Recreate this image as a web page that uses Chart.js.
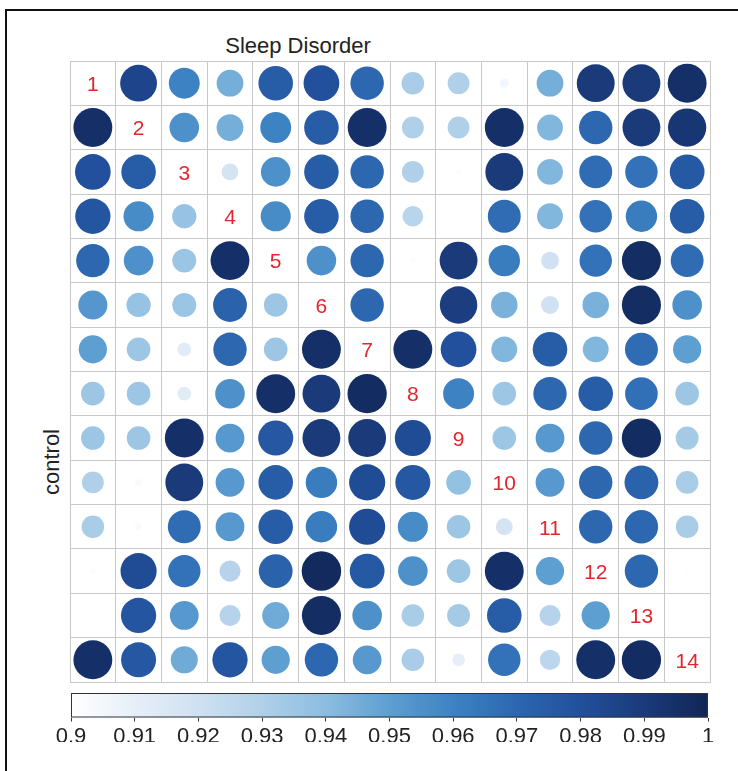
<!DOCTYPE html>
<html>
<head>
<meta charset="utf-8">
<script src="https://cdn.jsdelivr.net/npm/chart.js@4"></script>
<style>
  html, body { margin: 0; background: #fff; overflow: hidden; font-family: "Liberation Sans", Arial, sans-serif; }
  #wrap { position: relative; width: 738px; height: 771px; overflow: hidden; }
  #topline { position: absolute; left: 5px; top: 9px; width: 733px; height: 2px; background: #111; }
  #leftline { position: absolute; left: 5px; top: 9px; width: 2px; height: 762px; background: #111; }
  #title { position: absolute; left: 168px; width: 260px; top: 32px; text-align: center;
           font-size: 22px; color: #222; line-height: 28px; }
  #ylab { position: absolute; left: 2px; top: 448px; width: 100px; text-align: center;
          font-size: 22px; color: #222; line-height: 28px; transform: rotate(-90deg); }
  #grid { position: absolute; left: 68px; top: 59px; }
  #bar { position: absolute; left: 50px; top: 690px; }
</style>
</head>
<body>
<div id="wrap">
  <div id="topline"></div>
  <div id="leftline"></div>
  <div id="title">Sleep Disorder</div>
  <div id="ylab">control</div>
  <canvas id="grid" width="644" height="625"></canvas>
  <canvas id="bar" width="680" height="54"></canvas>
</div>
<script>
// variable labels shown on the diagonal
const varLabels = ['1', '2', '3', '4', '5', '6', '7', '8', '9', '10', '11', '12', '13', '14'];

// correlation rows (null = diagonal); upper = Sleep Disorder, lower = control
const row01 = [null, 0.985, 0.960, 0.945, 0.975, 0.980, 0.970, 0.932, 0.930, 0.905, 0.945, 0.990, 0.990, 0.995];
const row02 = [0.995, null, 0.955, 0.945, 0.960, 0.975, 0.995, 0.930, 0.930, 0.995, 0.942, 0.970, 0.990, 0.992];
const row03 = [0.980, 0.975, null, 0.918, 0.955, 0.975, 0.970, 0.930, 0.902, 0.990, 0.942, 0.968, 0.966, 0.976];
const row04 = [0.978, 0.957, 0.937, null, 0.957, 0.975, 0.970, 0.927, 0.901, 0.968, 0.942, 0.966, 0.962, 0.975];
const row05 = [0.970, 0.955, 0.936, 0.995, null, 0.955, 0.970, 0.902, 0.990, 0.962, 0.920, 0.966, 0.996, 0.968];
const row06 = [0.953, 0.937, 0.936, 0.972, 0.935, null, 0.970, 0.900, 0.988, 0.944, 0.920, 0.944, 0.996, 0.955];
const row07 = [0.950, 0.935, 0.912, 0.970, 0.935, 0.995, null, 0.995, 0.980, 0.942, 0.975, 0.942, 0.968, 0.950];
const row08 = [0.935, 0.935, 0.912, 0.955, 0.995, 0.990, 0.997, null, 0.960, 0.935, 0.970, 0.975, 0.967, 0.935];
const row09 = [0.935, 0.935, 0.995, 0.952, 0.977, 0.990, 0.990, 0.982, null, 0.935, 0.952, 0.970, 0.997, 0.933];
const row10 = [0.930, 0.903, 0.990, 0.952, 0.975, 0.962, 0.982, 0.977, 0.938, null, 0.952, 0.970, 0.972, 0.932];
const row11 = [0.932, 0.903, 0.968, 0.952, 0.975, 0.962, 0.982, 0.957, 0.935, 0.918, null, 0.970, 0.970, 0.932];
const row12 = [0.902, 0.982, 0.966, 0.928, 0.972, 0.998, 0.976, 0.955, 0.935, 0.995, 0.950, null, 0.970, 0.901];
const row13 = [0.901, 0.978, 0.952, 0.928, 0.946, 0.996, 0.955, 0.932, 0.933, 0.975, 0.928, 0.950, null, 0.901];
const row14 = [0.995, 0.977, 0.946, 0.978, 0.950, 0.970, 0.952, 0.932, 0.910, 0.966, 0.926, 0.995, 0.997, null];
const rows = [row01, row02, row03, row04, row05, row06, row07, row08, row09, row10, row11, row12, row13, row14];

// colour scale limits and colorbar ticks
const scaleMin = 0.9;
const scaleMax = 1;
const barTicks = [0.9, 0.91, 0.92, 0.93, 0.94, 0.95, 0.96, 0.97, 0.98, 0.99, 1];

// Blues-like palette, evenly spaced from scaleMin to scaleMax
const blues = ['#ffffff', '#e6eff8', '#cfe1f2', '#b0d0e9', '#8bbde0', '#5e9fd1',
               '#3d82c3', '#2c67b0', '#22509c', '#1a3a7a', '#102656'];

function hexToRgb(h) {
    const n = parseInt(h.slice(1), 16);
    return [(n >> 16) & 255, (n >> 8) & 255, n & 255];
}

function colorFor(v) {
    let t = (v - scaleMin) / (scaleMax - scaleMin);
    t = Math.max(0, Math.min(1, t));
    const pos = t * (blues.length - 1);
    const i = Math.min(Math.floor(pos), blues.length - 2);
    const f = pos - i;
    const a = hexToRgb(blues[i]), b = hexToRgb(blues[i + 1]);
    const c = a.map((x, k) => Math.round(x + (b[k] - x) * f));
    return `rgb(${c[0]},${c[1]},${c[2]})`;
}

const points = [];
rows.forEach((row, r) => {
    row.forEach((v, c) => {
        if (v !== null) points.push({ x: c + 0.5, y: r + 0.5, v: v });
    });
});

const gridColor = '#c9c9c9';

// draws the red variable numbers on the diagonal
const diagonalLabels = {
    id: 'diagonalLabels',
    afterDatasetsDraw(chart) {
        const { ctx, scales } = chart;
        ctx.save();
        ctx.fillStyle = '#e3262e';
        ctx.font = '21px "Liberation Sans", Arial, sans-serif';
        ctx.textAlign = 'center';
        ctx.textBaseline = 'middle';
        varLabels.forEach((lab, i) => {
            ctx.fillText(lab, scales.x.getPixelForValue(i + 0.5), scales.y.getPixelForValue(i + 0.5) + 2);
        });
        ctx.restore();
    }
};

new Chart(document.getElementById('grid'), {
    type: 'scatter',
    data: {
        datasets: [{
            data: points,
            pointStyle: 'circle',
            borderWidth: 0,
            backgroundColor: ctx => ctx.raw ? colorFor(ctx.raw.v) : '#fff',
            pointRadius: ctx => {
                const area = ctx.chart.chartArea;
                if (!area || !ctx.raw) return 0;
                const cell = Math.min(area.width, area.height) / varLabels.length;
                const t = Math.max(0, (ctx.raw.v - scaleMin) / (scaleMax - scaleMin));
                return cell / 2 * 0.9 * Math.sqrt(t);
            }
        }]
    },
    options: {
        responsive: false,
        animation: false,
        devicePixelRatio: 1,
        layout: { padding: 2 },
        plugins: { legend: { display: false }, tooltip: { enabled: false } },
        scales: {
            x: {
                min: 0, max: 14,
                ticks: { display: false, stepSize: 1 },
                grid: { color: gridColor, drawTicks: false, lineWidth: 1 },
                border: { color: gridColor }
            },
            y: {
                min: 0, max: 14, reverse: true,
                ticks: { display: false, stepSize: 1 },
                grid: { color: gridColor, drawTicks: false, lineWidth: 1 },
                border: { color: gridColor }
            }
        }
    },
    plugins: [diagonalLabels]
});

// gradient fill and outline of the colorbar
const colorbarFill = {
    id: 'colorbarFill',
    beforeDatasetsDraw(chart) {
        const { ctx, chartArea: a, scales } = chart;
        const x0 = scales.x.getPixelForValue(scaleMin);
        const x1 = scales.x.getPixelForValue(scaleMax);
        const g = ctx.createLinearGradient(x0, 0, x1, 0);
        blues.forEach((col, i) => g.addColorStop(i / (blues.length - 1), col));
        ctx.save();
        ctx.fillStyle = g;
        ctx.fillRect(a.left, a.top, a.width, a.height);
        ctx.strokeStyle = '#333';
        ctx.lineWidth = 1;
        ctx.strokeRect(a.left + 0.5, a.top + 0.5, a.width - 1, a.height - 1);
        ctx.restore();
    }
};

new Chart(document.getElementById('bar'), {
    type: 'scatter',
    data: { datasets: [] },
    options: {
        responsive: false,
        animation: false,
        devicePixelRatio: 1,
        layout: { padding: { left: 21, right: 22, top: 3, bottom: 2 } },
        plugins: { legend: { display: false }, tooltip: { enabled: false } },
        scales: {
            x: {
                min: scaleMin, max: scaleMax,
                afterBuildTicks: axis => { axis.ticks = barTicks.map(v => ({ value: v })); },
                ticks: {
                    autoSkip: false, maxRotation: 0, padding: 2,
                    color: '#222',
                    font: { family: '"Liberation Sans", Arial, sans-serif', size: 22 },
                    callback: v => String(Number(v.toFixed(2)))
                },
                grid: { drawOnChartArea: false, color: '#333', tickLength: 4 },
                border: { display: false }
            },
            y: { display: false, min: 0, max: 1 }
        }
    },
    plugins: [colorbarFill]
});
</script>
</body>
</html>
